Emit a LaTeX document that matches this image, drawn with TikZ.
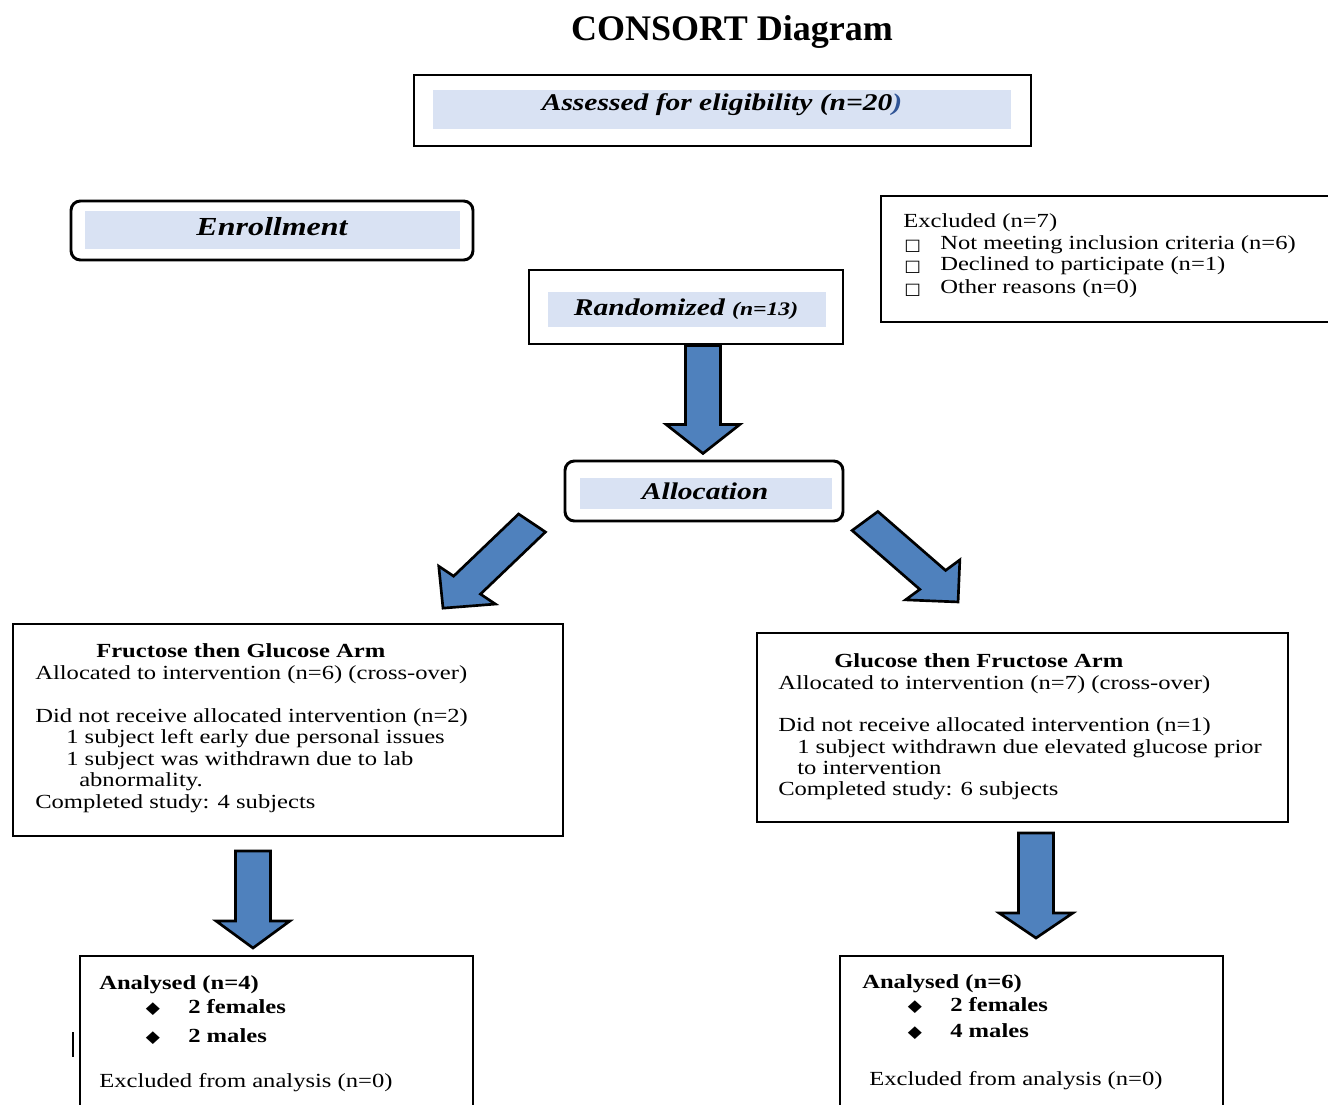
\documentclass[tikz,border=0pt]{standalone}
\usepackage{fontspec}
\setmainfont{Liberation Serif}
\newfontfamily\bodyf{Liberation Serif}[FakeStretch=1.23]
\newfontfamily\hdrf{Liberation Serif Bold Italic}[FakeStretch=1.23]
\newfontfamily\symf{DejaVu Sans}[FakeStretch=1.1]
\usetikzlibrary{fit}
\definecolor{lightfill}{RGB}{217,226,243}
\definecolor{arrowblue}{RGB}{79,129,189}
\definecolor{parenblue}{RGB}{47,84,150}
\newcommand\blockarrow[4]{%
  \begin{scope}[shift={(#1)}, xscale=1.25, rotate=#2]
    \draw[blockarr] (0,-14) -- ({#3-#4},-14) -- ({#3-#4},-29.5) -- (#3,0)
      -- ({#3-#4},29.5) -- ({#3-#4},14) -- (0,14) -- cycle;
  \end{scope}}
\begin{document}
\begin{tikzpicture}[x=0.75pt,y=-0.75pt,
  box/.style={draw=black, line width=2.2pt, inner sep=0pt, fill=none},
  rbox/.style={box, rounded corners=7pt},
  bar/.style={fill=lightfill, draw=none, inner sep=0pt},
  body/.style={font=\bodyf\fontsize{15pt}{16pt}\selectfont, inner sep=0pt, anchor=base west},
  bbody/.style={body, font=\bodyf\bfseries\fontsize{15pt}{16pt}\selectfont},
  hdr/.style={font=\hdrf\fontsize{18pt}{20pt}\selectfont, inner sep=0pt, anchor=base},
  sq/.style={font=\symf\fontsize{12pt}{12pt}\selectfont, inner sep=0pt, anchor=base west},
  dia/.style={font=\symf\fontsize{12.5pt}{12pt}\selectfont, inner sep=0pt, anchor=base},
  blockarr/.style={fill=arrowblue, draw=black, line width=2pt, line join=miter}]
\useasboundingbox (0,0) rectangle (1328,1105);

% title
\node[font=\bfseries\fontsize{27pt}{30pt}\selectfont, inner sep=0pt, anchor=base] (title) at (732,41) {CONSORT Diagram};

% assessed
\node[box, fit={(414,75) (1031,146)}] (assess) {};
\node[bar, fit={(433,90) (1011,129)}] (assessbar) {};
\node[hdr] (assesstxt) at (722,111) {Assessed for eligibility (n=20\textcolor{parenblue}{)}};

% enrollment
\node[rbox, fit={(71,201) (473,260)}] (enrol) {};
\node[bar, fit={(85,211) (460,249)}] (enrolbar) {};
\node[hdr, font=\hdrf\fontsize{19.5pt}{21pt}\selectfont] (enroltxt) at (272,236) {Enrollment};

% excluded
\node[box, fit={(881,196) (1345,322)}] (excl) {};
\node[body] (ex0) at (903,228) {Excluded (n=7)};
\node[sq] (sq1) at (904,251) {□};
\node[sq] (sq2) at (904,272) {□};
\node[sq] (sq3) at (904,295) {□};
\node[body] (ex1) at (940,250) {Not meeting inclusion criteria (n=6)};
\node[body] (ex2) at (940,271) {Declined to participate (n=1)};
\node[body] (ex3) at (940,294) {Other reasons (n=0)};

% randomized
\node[box, fit={(529,270) (843,344)}] (rand) {};
\node[bar, fit={(548,292) (826,327)}] (randbar) {};
\node[hdr] (randtxt) at (686,316) {Randomized {\fontsize{14.4pt}{16pt}\selectfont (n=13)}};

% allocation
\node[rbox, fit={(565,461) (843,521)}] (alloc) {};
\node[bar, fit={(580,478) (832,509)}] (allocbar) {};
\node[hdr] (alloctxt) at (705,499) {Allocation};

% left arm
\node[box, fit={(13,624) (563,836)}] (larm) {};
\node[bbody] (la0) at (96,657) {Fructose then Glucose Arm};
\node[body] (la1) at (35,679) {Allocated to intervention (n=6) (cross-over)};
\node[body] (la2) at (35,722) {Did not receive allocated intervention (n=2)};
\node[body] (la3) at (66,743) {1 subject left early due personal issues};
\node[body] (la4) at (66,765) {1 subject was withdrawn due to lab};
\node[body] (la5) at (79,786) {abnormality.};
\node[body] (la6) at (35,808) {Completed study: 4 subjects};

% right arm
\node[box, fit={(757,633) (1288,822)}] (rarm) {};
\node[bbody] (ra0) at (834,667) {Glucose then Fructose Arm};
\node[body] (ra1) at (778,689) {Allocated to intervention (n=7) (cross-over)};
\node[body] (ra2) at (778,731) {Did not receive allocated intervention (n=1)};
\node[body] (ra3) at (797,753) {1 subject withdrawn due elevated glucose prior};
\node[body] (ra4) at (797,774) {to intervention};
\node[body] (ra5) at (778,795) {Completed study: 6 subjects};

% bottom left
\node[box, fit={(80,956) (473,1120)}] (lan) {};
\node[bbody] (bl0) at (99,989) {Analysed (n=4)};
\node[dia] (bld1) at (153,1013) {◆};
\node[bbody] (bl1) at (188,1013) {2 females};
\node[dia] (bld2) at (153,1042) {◆};
\node[bbody] (bl2) at (188,1042) {2 males};
\node[body] (bl3) at (99,1087) {Excluded from analysis (n=0)};
\coordinate (stray1) at (73,1032);
\coordinate (stray2) at (73,1057);
\draw[line width=1.4pt] (stray1) -- (stray2);

% bottom right
\node[box, fit={(840,956) (1223,1120)}] (ran) {};
\node[bbody] (br0) at (862,988) {Analysed (n=6)};
\node[dia] (brd1) at (915,1011) {◆};
\node[bbody] (br1) at (950,1011) {2 females};
\node[dia] (brd2) at (915,1037) {◆};
\node[bbody] (br2) at (950,1037) {4 males};
\node[body] (br3) at (869,1085) {Excluded from analysis (n=0)};

% arrows
\coordinate (a1) at (rand.south -| 703,0);
\coordinate (a2) at (532,523);
\coordinate (a3) at (865,521);
\coordinate (a4) at (253,851);
\coordinate (a5) at (1036,833);
\blockarrow{a1}{-90}{108}{29}
\blockarrow{a2}{230.1}{111}{30}
\blockarrow{a3}{-47.4}{110}{30}
\blockarrow{a4}{-90}{97}{27}
\blockarrow{a5}{-90}{105}{25}
\end{tikzpicture}
\end{document}
